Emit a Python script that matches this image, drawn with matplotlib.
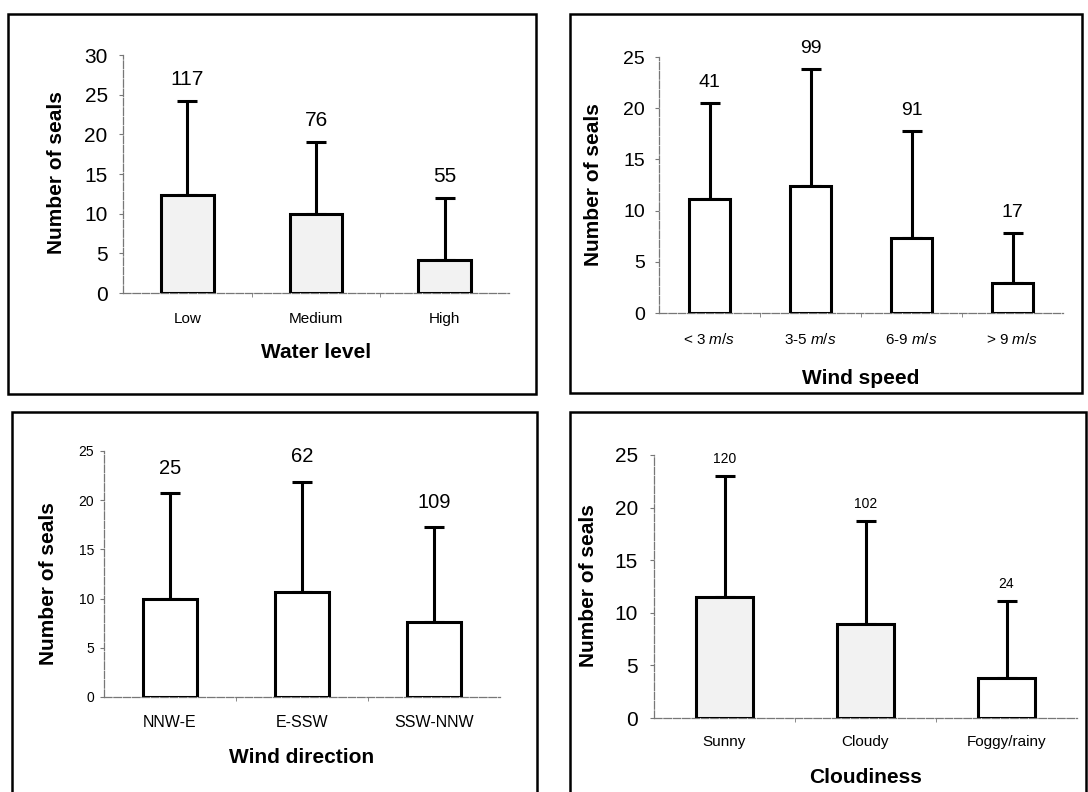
import matplotlib
matplotlib.use("Agg")
import matplotlib.pyplot as plt
from matplotlib.patches import Rectangle
import numpy as np

plt.rcParams['font.family'] = ['Liberation Sans', 'DejaVu Sans']
plt.rcParams['mathtext.fontset'] = 'custom'
plt.rcParams['mathtext.rm'] = 'Liberation Sans'
plt.rcParams['mathtext.it'] = 'Liberation Sans:italic'

# ---- data ----
water_levels = ['Low', 'Medium', 'High']
water_mean = [12.4, 9.9, 4.1]
water_upper = [24.2, 19.0, 12.0]
water_n = [117, 76, 55]

wind_speeds = ['< 3 $\\it{m/s}$', '3-5 $\\it{m/s}$', '6-9 $\\it{m/s}$', '> 9 $\\it{m/s}$']
wind_mean = [11.1, 12.4, 7.3, 2.9]
wind_upper = [20.5, 23.8, 17.8, 7.8]
wind_n = [41, 99, 91, 17]

wind_dirs = ['NNW-E', 'E-SSW', 'SSW-NNW']
dir_mean = [10.0, 10.7, 7.6]
dir_upper = [20.7, 21.9, 17.3]
dir_n = [25, 62, 109]

cloud_cats = ['Sunny', 'Cloudy', 'Foggy/rainy']
cloud_mean = [11.5, 8.9, 3.8]
cloud_upper = [23.0, 18.7, 11.1]
cloud_n = [120, 102, 24]

W, H = 1088, 792
fig = plt.figure(figsize=(W / 100, H / 100), dpi=100)

def fr(x0, y0, x1, y1):
    return [x0 / W, 1 - y1 / H, (x1 - x0) / W, (y1 - y0) / H]

# panel frames
for (x0, y0, x1, y1) in [(8, 14, 536, 394), (570, 14, 1082, 393),
                         (12, 412, 537, 795), (570, 412, 1086, 795)]:
    fig.add_artist(Rectangle((x0 / W, 1 - y1 / H), (x1 - x0) / W, (y1 - y0) / H,
                             transform=fig.transFigure, fill=False,
                             edgecolor='black', linewidth=1.8, zorder=0))

def panel(rect, cats, mean, upper, n, colors, ymax, ystep, xlabel,
          ytick_fs, n_fs, xt_fs, n_off, ypad, xpad, xl_y, yl_x, yl_y):
    ax = fig.add_axes(rect)
    x = np.arange(len(cats))
    mean = np.array(mean)
    upper = np.array(upper)
    ax.errorbar(x, mean, yerr=[np.zeros_like(mean), upper - mean], fmt='none',
                ecolor='black', elinewidth=2.2, capsize=7.5, capthick=2.2, zorder=2)
    ax.bar(x, mean, width=0.41, color=colors, edgecolor='black', linewidth=2.2, zorder=3)
    for xi, up, ni in zip(x, upper, n):
        ax.annotate(str(ni), (xi, up), xytext=(0, n_off), textcoords='offset points',
                    ha='center', va='baseline', fontsize=n_fs)
    ax.set_xlim(-0.5, len(cats) - 0.5)
    ax.set_ylim(0, ymax)
    ax.set_yticks(np.arange(0, ymax + 0.1, ystep))
    ax.set_xticks(x)
    ax.set_xticklabels(cats, fontsize=xt_fs)
    ax.set_xticks(np.arange(0.5, len(cats) - 0.5, 1.0), minor=True)
    ax.tick_params(axis='x', which='major', length=0, pad=xpad)
    ax.tick_params(axis='x', which='minor', length=3, color='#777777', direction='out')
    ax.tick_params(axis='y', length=3, width=0.8, color='#777777', pad=ypad,
                   labelsize=ytick_fs)
    for s in ['top', 'right']:
        ax.spines[s].set_visible(False)
    for s in ['left', 'bottom']:
        ax.spines[s].set_color('#777777')
        ax.spines[s].set_linewidth(0.9)
        ax.spines[s].set_linestyle((0, (6, 1.5)))
    ax.set_xlabel(xlabel, fontsize=15, fontweight='bold', va='baseline')
    ax.xaxis.set_label_coords(0.5, xl_y)
    ax.set_ylabel('Number of seals', fontsize=15, fontweight='bold', va='center', ha='center')
    ax.yaxis.set_label_coords(yl_x, yl_y)
    ax.set_facecolor('none')
    return ax

stip = '#f2f2f2'
panel(fr(123, 55, 509, 293), water_levels, water_mean, water_upper, water_n,
      [stip] * 3, 30, 5, 'Water level', 15, 15, 11, 11.5, 8, 14, -0.273, -0.171, 0.504)
panel(fr(659, 57, 1063, 313), wind_speeds, wind_mean, wind_upper, wind_n,
      ['white'] * 4, 25, 5, 'Wind speed', 14, 14, 11, 11.5, 7, 13.5, -0.277, -0.161, 0.5)
panel(fr(104, 451, 500, 697), wind_dirs, dir_mean, dir_upper, dir_n,
      ['white'] * 3, 25, 5, 'Wind direction', 10, 14.5, 11.5, 13.7, 4, 13, -0.268, -0.139, 0.463)
panel(fr(654, 455, 1077, 718), cloud_cats, cloud_mean, cloud_upper, cloud_n,
      [stip, stip, 'white'], 25, 5, 'Cloudiness', 15, 10, 11, 9.6, 8.5, 12, -0.247, -0.154, 0.502)

fig.savefig('out.png', dpi=100)
